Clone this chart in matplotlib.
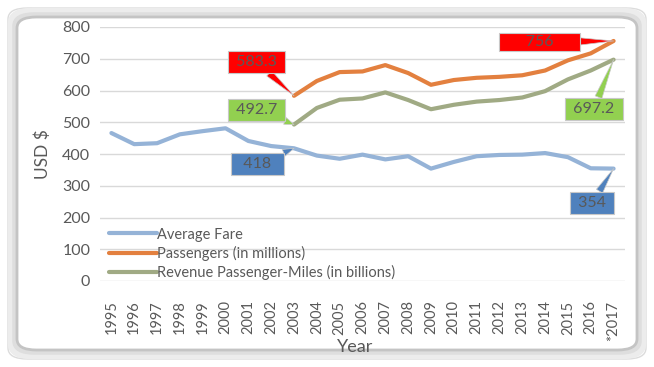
import numpy as np
import matplotlib.pyplot as plt
from matplotlib.patches import FancyBboxPatch

years = ['1995', '1996', '1997', '1998', '1999', '2000', '2001', '2002', '2003', '2004',
         '2005', '2006', '2007', '2008', '2009', '2010', '2011', '2012', '2013', '2014',
         '2015', '2016', '*2017']
avg_fare = [466, 431, 434, 462, 472, 481, 441, 425, 418, 395, 385, 398, 383, 393, 354,
            375, 393, 397, 398, 403, 390, 355, 354]
# passengers and RPM only from 2003
passengers = [583.3, 630, 658, 660, 680, 655, 618, 633, 640, 643, 648, 663, 695, 717, 756]
rpm = [492.7, 545, 571, 575, 594, 570, 541, 555, 565, 570, 578, 598, 635, 663, 697.2]
start = years.index('2003')

c_fare = '#95B3D7'
c_pass = '#E3803F'
c_rpm = '#A0AA84'
txt = '#595959'

plt.rcParams['font.family'] = ['Lato', 'DejaVu Sans']

fig = plt.figure(figsize=(6.54, 3.67), dpi=100)

# rounded frame with soft gray border
W, H = 654, 367
frame = [(8, 1.0, '#dcdcdc'), (12, 6, '#ececec'), (15, 4, '#dedede'), (17, 2, '#c4c4c4')]
for pad, lw, col in frame:
    box = FancyBboxPatch((pad / W, pad / H), (W - 2 * pad) / W, (H - 2 * pad) / H,
                         boxstyle='round,pad=0,rounding_size=0.03', transform=fig.transFigure,
                         fc='none', ec=col, lw=lw)
    fig.patches.append(box)

ax = fig.add_axes([100 / W, 1 - 281 / H, 525 / W, 254 / H])
x = np.arange(len(years))
xs = x[start:]

ax.plot(x, avg_fare, color=c_fare, lw=3, label='Average Fare', solid_capstyle='round')
ax.plot(xs, passengers, color=c_pass, lw=3, label='Passengers (in millions)', solid_capstyle='round')
ax.plot(xs, rpm, color=c_rpm, lw=3, label='Revenue Passenger-Miles (in billions)', solid_capstyle='round')

ax.set_xlim(-0.5, len(years) - 0.5)
ax.set_ylim(0, 800)
ax.set_yticks(range(0, 801, 100))
ax.set_xticks(x)
ax.set_xticklabels(years, rotation=90, fontsize=10.5, color=txt)
ax.tick_params(axis='y', labelsize=11.5, labelcolor=txt, length=0, pad=7)
ax.tick_params(axis='x', length=0, pad=14)
ax.grid(axis='y', color='#d9d9d9', lw=1)
ax.set_axisbelow(True)
for s in ax.spines.values():
    s.set_visible(False)

ax.set_ylabel('USD $', fontsize=12.5, color=txt, labelpad=8)
fig.text(355 / W, 1 - 347 / H, 'Year', fontsize=13, color=txt, ha='center', va='center')

leg = ax.legend(loc='upper left', bbox_to_anchor=(0.0, 0.245), frameon=False, fontsize=10.5,
                handlelength=3.3, handletextpad=0.0, labelspacing=0.3, borderaxespad=0.2)
for t in leg.get_texts():
    t.set_color(txt)


def callout(xi, yv, text, tx, ty, col, pad=0.25):
    ax.annotate(text, xy=(xi, yv), xytext=(tx, ty), textcoords='data',
                fontsize=11.5, color=txt, ha='center', va='center',
                bbox=dict(boxstyle=f'square,pad={pad}', fc=col, ec='#c8c8c8', lw=0.8),
                arrowprops=dict(arrowstyle='wedge,tail_width=0.45,shrink_factor=0.5',
                                fc=col, ec='#c8c8c8', lw=0.5, shrinkA=0, shrinkB=0))


i17 = len(years) - 1
callout(start, passengers[0], ' 583.3 ', 6.36, 690, '#FF0000')
callout(start, rpm[0], ' 492.7 ', 6.36, 540, '#92D050')
callout(start, avg_fare[start], '  418  ', 6.4, 368, '#4F81BD')
callout(i17, passengers[-1], '      756      ', 18.75, 753, '#FF0000', pad=0.1)
callout(i17, rpm[-1], ' 697.2 ', 21.14, 543, '#92D050')
callout(i17, avg_fare[-1], ' 354 ', 21.07, 247, '#4F81BD')

fig.savefig('out.png', dpi=100)
